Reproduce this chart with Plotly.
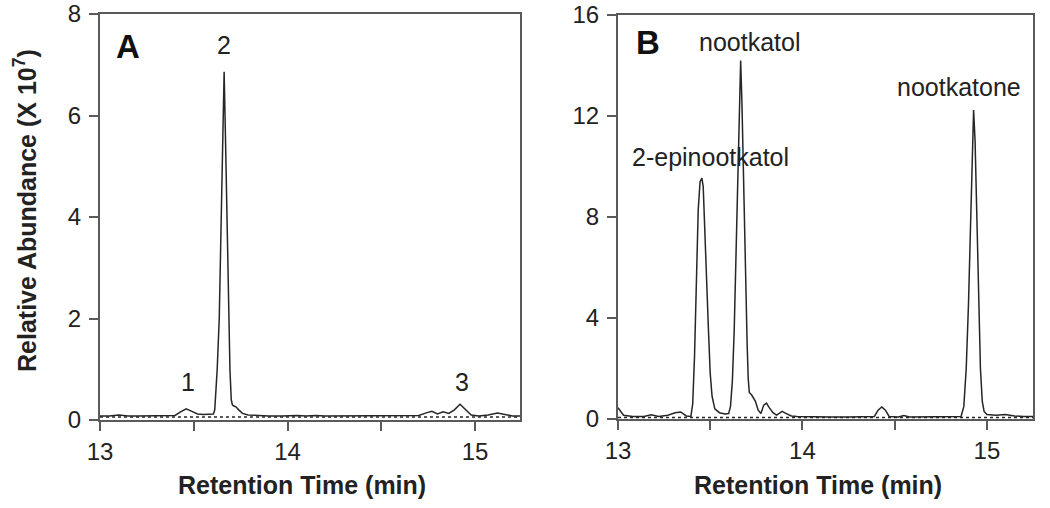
import plotly.graph_objects as go

# ---- Panel A: chromatogram (retention time, min ; abundance x10^7)
a_time = [13.00, 13.05, 13.10, 13.15, 13.20, 13.25, 13.30, 13.35, 13.40, 13.43, 13.46, 13.49,
          13.52, 13.55, 13.58, 13.605, 13.612, 13.625, 13.636, 13.646, 13.655, 13.662, 13.669,
          13.678, 13.686, 13.693, 13.700, 13.706, 13.712, 13.725, 13.74, 13.76, 13.79, 13.83,
          13.90, 13.97, 14.05, 14.10, 14.15, 14.20, 14.25, 14.30, 14.40, 14.50, 14.60, 14.70,
          14.74, 14.77, 14.80, 14.83, 14.86, 14.89, 14.92, 14.95, 14.98, 15.02, 15.07, 15.12,
          15.16, 15.20, 15.25]
a_abund = [0.08, 0.08, 0.10, 0.08, 0.08, 0.08, 0.08, 0.08, 0.09, 0.16, 0.22, 0.17,
           0.12, 0.11, 0.11, 0.12, 0.20, 1.00, 2.00, 3.80, 5.80, 6.86, 5.60,
           3.80, 2.00, 1.00, 0.40, 0.30, 0.28, 0.26, 0.20, 0.13, 0.10, 0.09,
           0.08, 0.08, 0.09, 0.08, 0.09, 0.08, 0.08, 0.09, 0.08, 0.08, 0.08, 0.09,
           0.14, 0.17, 0.12, 0.16, 0.13, 0.20, 0.31, 0.20, 0.10, 0.08, 0.10, 0.14,
           0.11, 0.08, 0.08]
a_ctrl_time = [13.00, 13.25, 13.50, 13.75, 14.00, 14.25, 14.50, 14.75, 15.00, 15.25]
a_ctrl_abund = [0.06, 0.06, 0.07, 0.06, 0.06, 0.06, 0.06, 0.07, 0.06, 0.06]

# ---- Panel B: chromatogram
b_time = [13.00, 13.01, 13.03, 13.08, 13.14, 13.18, 13.22, 13.27, 13.31, 13.34, 13.37, 13.395,
          13.405, 13.415, 13.425, 13.435, 13.445, 13.455, 13.462, 13.470, 13.480, 13.490,
          13.500, 13.510, 13.525, 13.55, 13.58, 13.60, 13.61, 13.62, 13.63, 13.64, 13.65,
          13.66, 13.665, 13.672, 13.68, 13.69, 13.70, 13.706, 13.712, 13.725, 13.745, 13.76,
          13.775, 13.79, 13.805, 13.82, 13.84, 13.86, 13.875, 13.89, 13.91, 13.94, 13.97, 14.05,
          14.15, 14.25, 14.35, 14.39, 14.41, 14.43, 14.45, 14.47, 14.52, 14.55, 14.58, 14.70,
          14.80, 14.86, 14.875, 14.888, 14.90, 14.91, 14.92, 14.928, 14.936, 14.945, 14.955,
          14.965, 14.975, 14.985, 15.00, 15.05, 15.10, 15.15, 15.20, 15.25]
b_abund = [0.45, 0.35, 0.15, 0.10, 0.10, 0.17, 0.10, 0.15, 0.25, 0.28, 0.12, 0.10,
           0.60, 2.50, 5.50, 8.30, 9.40, 9.54, 9.20, 7.80, 5.60, 3.60,
           1.80, 0.90, 0.40, 0.25, 0.20, 0.22, 0.50, 1.50, 3.50, 6.50, 10.00,
           13.50, 14.20, 12.50, 9.50, 6.00, 3.00, 1.60, 1.05, 0.95, 0.70, 0.35,
           0.22, 0.55, 0.63, 0.45, 0.25, 0.15, 0.22, 0.30, 0.22, 0.12, 0.10, 0.08,
           0.08, 0.08, 0.08, 0.10, 0.35, 0.48, 0.35, 0.10, 0.08, 0.14, 0.08, 0.08,
           0.08, 0.10, 0.50, 2.00, 4.50, 7.50, 10.80, 12.24, 11.00, 8.00, 4.50,
           2.00, 0.70, 0.30, 0.18, 0.15, 0.18, 0.12, 0.10, 0.10]
b_ctrl_time = [13.00, 13.25, 13.50, 13.75, 14.00, 14.25, 14.50, 14.75, 15.00, 15.25]
b_ctrl_abund = [0.06, 0.06, 0.06, 0.06, 0.06, 0.06, 0.06, 0.06, 0.06, 0.06]

x_tickvals = [13, 13.5, 14, 14.5, 15]
x_ticktext = ["13", "", "14", "", "15"]
a_yticks = [0, 2, 4, 6, 8]
b_yticks = [0, 4, 8, 12, 16]

# labels: (text, x, y)
a_labels = [("1", 13.47, 0.75), ("2", 13.66, 7.39), ("3", 14.93, 0.75)]
b_labels = [("nootkatol", 13.715, 14.93), ("2-epinootkatol", 13.5, 10.38), ("nootkatone", 14.85, 13.15)]

FONT = "Arial, Liberation Sans, sans-serif"
LINE = "#262626"
AXC = "#5a5a5a"

fig = go.Figure()
fig.add_trace(go.Scatter(x=a_ctrl_time, y=a_ctrl_abund, mode="lines", xaxis="x", yaxis="y",
                         line=dict(color=LINE, width=1.6, dash="dot"), showlegend=False))
fig.add_trace(go.Scatter(x=a_time, y=a_abund, mode="lines", xaxis="x", yaxis="y",
                         line=dict(color=LINE, width=1.5), showlegend=False))
fig.add_trace(go.Scatter(x=b_ctrl_time, y=b_ctrl_abund, mode="lines", xaxis="x2", yaxis="y2",
                         line=dict(color=LINE, width=1.6, dash="dot"), showlegend=False))
fig.add_trace(go.Scatter(x=b_time, y=b_abund, mode="lines", xaxis="x2", yaxis="y2",
                         line=dict(color=LINE, width=1.5), showlegend=False))

axis_common = dict(showline=True, linecolor=AXC, linewidth=2, mirror=True, ticks="outside",
                   ticklen=9, tickwidth=2, tickcolor=AXC, showgrid=False, zeroline=False,
                   automargin=False, ticklabeloverflow="allow",
                   tickfont=dict(family=FONT, size=24, color="#222"))

W, H = 1050, 508
def px_x(p): return p / W
def px_y(p): return 1 - p / H

fig.update_layout(
    template="none",
    width=W, height=H, margin=dict(l=0, r=0, t=0, b=0, autoexpand=False),
    paper_bgcolor="white", plot_bgcolor="white",
    xaxis=dict(domain=[px_x(100), px_x(520)], range=[13, 15.24], tickvals=x_tickvals,
               ticktext=x_ticktext, anchor="y", ticklabelstandoff=0, **axis_common),
    yaxis=dict(domain=[px_y(420), px_y(14)], range=[0, 8], tickvals=a_yticks, anchor="x",
               ticklabelstandoff=3, **axis_common),
    xaxis2=dict(domain=[px_x(618), px_x(1033)], range=[13, 15.25], tickvals=x_tickvals,
                ticktext=x_ticktext, anchor="y2", ticklabelstandoff=0, **axis_common),
    yaxis2=dict(domain=[px_y(419), px_y(15)], range=[0, 16], tickvals=b_yticks, anchor="x2",
                ticklabelstandoff=3, **axis_common),
)

ann = []
for t, x, y in a_labels:
    ann.append(dict(text=t, x=x, y=y, xref="x", yref="y", showarrow=False,
                    xanchor="center", yanchor="middle",
                    font=dict(family=FONT, size=25, color="#222")))
for t, x, y in b_labels:
    ann.append(dict(text=t, x=x, y=y, xref="x2", yref="y2", showarrow=False,
                    xanchor="center", yanchor="middle",
                    font=dict(family=FONT, size=25, color="#222")))
ann.append(dict(text="<b>A</b>", x=13.15, y=7.35, xref="x", yref="y", showarrow=False,
                xanchor="center", yanchor="middle",
                font=dict(family=FONT, size=33, color="#111")))
ann.append(dict(text="<b>B</b>", x=13.16, y=14.9, xref="x2", yref="y2", showarrow=False,
                xanchor="center", yanchor="middle",
                font=dict(family=FONT, size=33, color="#111")))
ann.append(dict(text="<b>Retention Time (min)</b>", x=px_x(302), y=px_y(485), xref="paper",
                yref="paper", showarrow=False, xanchor="center", yanchor="middle",
                font=dict(family=FONT, size=25, color="#222")))
ann.append(dict(text="<b>Retention Time (min)</b>", x=px_x(818), y=px_y(485), xref="paper",
                yref="paper", showarrow=False, xanchor="center", yanchor="middle",
                font=dict(family=FONT, size=25, color="#222")))
ann.append(dict(text="<b>Relative Abundance (X 10<sup>7</sup>)</b>", x=px_x(25), y=px_y(211),
                xref="paper", yref="paper", showarrow=False, textangle=-90,
                xanchor="center", yanchor="middle",
                font=dict(family=FONT, size=25, color="#222")))
fig.update_layout(annotations=ann)

# remove the browser's default 8px body margin so the figure fills the window exactly
fig.write_html("out.html", config={"displayModeBar": False},
               post_script="document.body.style.margin='0';")
